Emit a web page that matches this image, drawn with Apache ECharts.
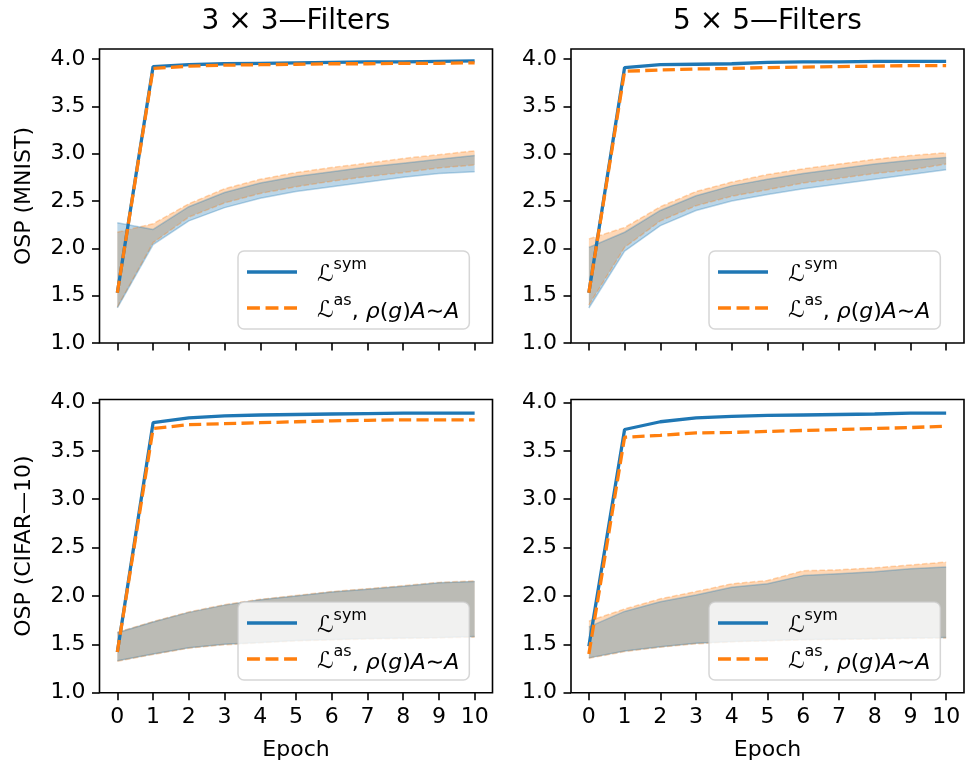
<!DOCTYPE html>
<html>
<head>
<meta charset="utf-8">
<script src="https://cdn.jsdelivr.net/npm/echarts@6/dist/echarts.min.js"></script>
<style>
html,body{margin:0;padding:0;background:#fff;}
#main{width:965px;height:767px;}
</style>
</head>
<body>
<div id="main"></div>
<script>
// ---------------- data ----------------
const epochs = ['0','1','2','3','4','5','6','7','8','9','10'];
const yTicks = [1.0, 1.5, 2.0, 2.5, 3.0, 3.5, 4.0];
const titles = ['3 \u00d7 3\u2014Filters', '5 \u00d7 5\u2014Filters'];
const rowLabels = ['OSP (MNIST)', 'OSP (CIFAR\u201410)'];
const yMaxByRow = [4.106, 4.03];

// MNIST, 3x3
const symMean_m3 = [1.53, 3.92, 3.94, 3.95, 3.955, 3.96, 3.965, 3.97, 3.97, 3.975, 3.98];
const asMean_m3  = [1.53, 3.90, 3.925, 3.935, 3.94, 3.945, 3.95, 3.95, 3.955, 3.955, 3.96];
const symLo_m3   = [1.37, 2.04, 2.29, 2.43, 2.53, 2.60, 2.65, 2.70, 2.75, 2.79, 2.81];
const symHi_m3   = [2.27, 2.20, 2.44, 2.59, 2.69, 2.76, 2.81, 2.86, 2.90, 2.94, 2.98];
const asLo_m3    = [1.38, 2.06, 2.33, 2.48, 2.58, 2.65, 2.71, 2.76, 2.80, 2.85, 2.88];
const asHi_m3    = [2.17, 2.26, 2.47, 2.63, 2.73, 2.80, 2.855, 2.90, 2.95, 2.99, 3.03];

// MNIST, 5x5
const symMean_m5 = [1.53, 3.91, 3.94, 3.945, 3.95, 3.965, 3.97, 3.97, 3.975, 3.975, 3.975];
const asMean_m5  = [1.53, 3.87, 3.885, 3.895, 3.90, 3.91, 3.915, 3.92, 3.925, 3.93, 3.93];
const symLo_m5   = [1.37, 1.97, 2.24, 2.40, 2.50, 2.57, 2.63, 2.68, 2.73, 2.78, 2.83];
const symHi_m5   = [2.01, 2.17, 2.40, 2.555, 2.66, 2.73, 2.79, 2.84, 2.89, 2.93, 2.96];
const asLo_m5    = [1.40, 2.01, 2.29, 2.45, 2.55, 2.62, 2.69, 2.74, 2.79, 2.83, 2.89];
const asHi_m5    = [2.10, 2.22, 2.44, 2.60, 2.70, 2.78, 2.84, 2.89, 2.94, 2.98, 3.01];

// CIFAR-10, 3x3
const symMean_c3 = [1.42, 3.79, 3.84, 3.86, 3.87, 3.875, 3.88, 3.885, 3.89, 3.89, 3.89];
const asMean_c3  = [1.42, 3.73, 3.77, 3.78, 3.79, 3.80, 3.81, 3.815, 3.82, 3.82, 3.82];
const symLo_c3   = [1.33, 1.40, 1.465, 1.50, 1.52, 1.54, 1.55, 1.56, 1.565, 1.57, 1.58];
const symHi_c3   = [1.62, 1.73, 1.83, 1.905, 1.96, 2.00, 2.04, 2.07, 2.10, 2.135, 2.15];
const asLo_c3    = [1.325, 1.395, 1.46, 1.495, 1.515, 1.535, 1.545, 1.555, 1.56, 1.565, 1.575];
const asHi_c3    = [1.625, 1.735, 1.835, 1.91, 1.965, 2.005, 2.045, 2.075, 2.105, 2.14, 2.155];

// CIFAR-10, 5x5
const symMean_c5 = [1.48, 3.72, 3.80, 3.84, 3.855, 3.865, 3.87, 3.875, 3.88, 3.89, 3.89];
const asMean_c5  = [1.40, 3.64, 3.66, 3.685, 3.69, 3.70, 3.71, 3.72, 3.73, 3.74, 3.755];
const symLo_c5   = [1.36, 1.43, 1.475, 1.51, 1.53, 1.54, 1.55, 1.555, 1.56, 1.565, 1.57];
const symHi_c5   = [1.68, 1.84, 1.94, 2.01, 2.09, 2.125, 2.21, 2.23, 2.25, 2.28, 2.30];
const asLo_c5    = [1.355, 1.425, 1.47, 1.505, 1.525, 1.535, 1.545, 1.55, 1.555, 1.56, 1.565];
const asHi_c5    = [1.74, 1.865, 1.97, 2.045, 2.125, 2.16, 2.26, 2.27, 2.29, 2.32, 2.35];

// ---------------- chart ----------------
const FONT = 'DejaVu Sans';
const BLUE = '#1f77b4', ORANGE = '#ff7f0e';
const BLUE_A = 'rgba(31,119,180,0.3)', ORANGE_A = 'rgba(255,127,14,0.3)';

const panels = [
  {sym: symMean_m3, as: asMean_m3, sLo: symLo_m3, sHi: symHi_m3, aLo: asLo_m3, aHi: asHi_m3},
  {sym: symMean_m5, as: asMean_m5, sLo: symLo_m5, sHi: symHi_m5, aLo: asLo_m5, aHi: asHi_m5},
  {sym: symMean_c3, as: asMean_c3, sLo: symLo_c3, sHi: symHi_c3, aLo: asLo_c3, aHi: asHi_c3},
  {sym: symMean_c5, as: asMean_c5, sLo: symLo_c5, sHi: symHi_c5, aLo: asLo_c5, aHi: asHi_c5}
];

const gridPos = [
  {left: 99.5, top: 49, width: 393, height: 294},
  {left: 571, top: 49, width: 393, height: 294},
  {left: 99.5, top: 399.5, width: 393, height: 293.2},
  {left: 571, top: 399.5, width: 393, height: 293.2}
];
const legendPos = [
  {left: 238, top: 251}, {left: 709, top: 251},
  {left: 238, top: 602}, {left: 709, top: 602}
];

const grid = gridPos.map(g => Object.assign({show: true, borderColor: '#000', borderWidth: 1.6, backgroundColor: 'transparent', containLabel: false}, g));

const xAxis = gridPos.map((g, i) => ({
  gridIndex: i, type: 'category', data: epochs, boundaryGap: true,
  axisLine: {show: false},
  axisTick: {show: true, alignWithLabel: true, interval: 0, length: 7.5, lineStyle: {color: '#000', width: 1.6}},
  axisLabel: {show: i >= 2, interval: 0, fontSize: 22, fontFamily: FONT, color: '#000', margin: 14},
  splitLine: {show: false},
  name: i >= 2 ? 'Epoch' : '', nameLocation: 'middle', nameGap: 47,
  nameTextStyle: {fontSize: 22, fontFamily: FONT, color: '#000'}
}));

const yAxis = gridPos.map((g, i) => ({
  gridIndex: i, type: 'value', min: 1, max: yMaxByRow[i >> 1],
  axisLine: {show: false},
  splitLine: {show: false},
  axisTick: {show: true, length: 7.5, lineStyle: {color: '#000', width: 1.6}, customValues: yTicks},
  axisLabel: {fontSize: 22, fontFamily: FONT, color: '#000', margin: 14, customValues: yTicks, formatter: v => v.toFixed(1)},
  name: (i % 2 === 0) ? rowLabels[i >> 1] : '', nameLocation: 'middle', nameRotate: 90, nameGap: 64,
  nameTextStyle: {fontSize: 22, fontFamily: FONT, color: '#000'}
}));

const series = [];
panels.forEach((p, i) => {
  const sDiff = p.sHi.map((h, k) => +(h - p.sLo[k]).toFixed(4));
  const aDiff = p.aHi.map((h, k) => +(h - p.aLo[k]).toFixed(4));
  const common = {type: 'line', xAxisIndex: i, yAxisIndex: i, showSymbol: false, symbol: 'none', silent: true, z: 2, animation: false};
  // orange band first, blue band drawn over it
  series.push(Object.assign({}, common, {name: 'bandA' + i, stack: 'ba' + i, data: p.aLo, lineStyle: {color: ORANGE_A, width: 1.5, type: [5.5, 2.4]}}));
  series.push(Object.assign({}, common, {name: 'bandA' + i + 'h', stack: 'ba' + i, data: aDiff, lineStyle: {color: ORANGE_A, width: 1.5, type: [5.5, 2.4]}, areaStyle: {color: ORANGE_A, opacity: 1}}));
  series.push(Object.assign({}, common, {name: 'bandS' + i, stack: 'bs' + i, data: p.sLo, lineStyle: {color: BLUE_A, width: 1.5}}));
  series.push(Object.assign({}, common, {name: 'bandS' + i + 'h', stack: 'bs' + i, data: sDiff, lineStyle: {color: BLUE_A, width: 1.5}, areaStyle: {color: BLUE_A, opacity: 1}}));
  series.push(Object.assign({}, common, {name: 'sym', data: p.sym, z: 3, color: BLUE, lineStyle: {color: BLUE, width: 3.3}}));
  series.push(Object.assign({}, common, {name: 'as', data: p.as, z: 4, color: ORANGE, lineStyle: {color: ORANGE, width: 3.3, type: [12.2, 5.3]}}));
});

const ICON_SOLID = 'path://M0,0h50v3.3h-50z';
const ICON_DASH = 'path://M0,0h12.2v3.3h-12.2zM17.5,0h12.2v3.3h-12.2zM35,0h12.2v3.3h-12.2z';

const legend = legendPos.map(lp => ({
  left: lp.left, top: lp.top, orient: 'vertical',
  data: [{name: 'sym', icon: ICON_SOLID}, {name: 'as', icon: ICON_DASH}],
  selectedMode: false,
  symbolKeepAspect: false,
  itemWidth: 50, itemHeight: 3.3, itemGap: 6,
  padding: [6, 10, 6, 9],
  backgroundColor: 'rgba(255,255,255,0.8)',
  borderColor: 'rgba(204,204,204,0.8)', borderWidth: 1.5, borderRadius: 6,
  formatter: name => name === 'sym'
    ? '{L|\u2112}{sup|sym}'
    : '{L|\u2112}{sup|as}{n|, }{i|\u03c1}{n|(}{i|g}{n|)}{i|A}{n|\u223c}{i|A}',
  textStyle: {
    fontSize: 22, fontFamily: FONT, color: '#000', padding: [0, 0, 0, 15],
    rich: {
      L: {fontSize: 23, fontFamily: FONT, color: '#000', lineHeight: 30, verticalAlign: 'bottom'},
      sup: {fontSize: 16, fontFamily: FONT, color: '#000', lineHeight: 18, verticalAlign: 'top'},
      n: {fontSize: 22, fontFamily: FONT, color: '#000', lineHeight: 30, verticalAlign: 'bottom'},
      i: {fontSize: 22, fontFamily: FONT, fontStyle: 'italic', color: '#000', lineHeight: 30, verticalAlign: 'bottom'}
    }
  }
}));

const title = titles.map((t, i) => ({
  text: t, left: i === 0 ? 296 : 767.5, top: 8, textAlign: 'center', padding: 0,
  textStyle: {fontSize: 28, fontFamily: FONT, fontWeight: 'normal', color: '#000'}
}));

const chart = echarts.init(document.getElementById('main'), null, {renderer: 'canvas'});
chart.setOption({
  animation: false,
  backgroundColor: '#fff',
  title: title,
  grid: grid,
  xAxis: xAxis,
  yAxis: yAxis,
  legend: legend,
  series: series
});
</script>
</body>
</html>
